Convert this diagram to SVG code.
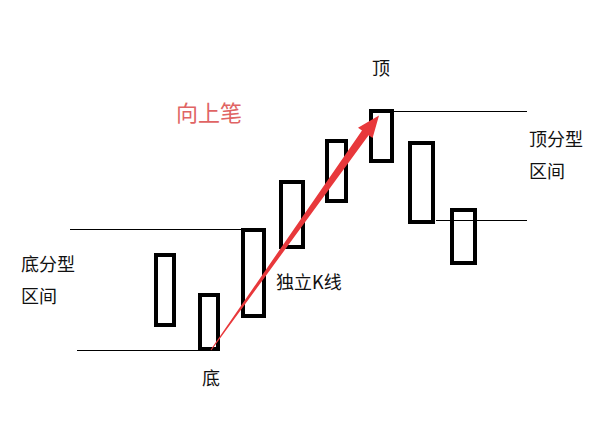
<svg xmlns="http://www.w3.org/2000/svg" width="616" height="430" viewBox="0 0 616 430">
<style>
.k{fill:none;stroke:#000;stroke-width:4}
.l{stroke:#000;stroke-width:1;fill:none}
.t{font-family:"Noto Sans CJK SC","Liberation Sans",sans-serif;font-size:18px;fill:#111}
</style>
<rect width="616" height="430" fill="#fff"/>
<g id="levels">
<line class="l" x1="70" y1="229.5" x2="241" y2="229.5"/>
<line class="l" x1="77" y1="350.5" x2="200" y2="350.5"/>
<line class="l" x1="394" y1="111.5" x2="527" y2="111.5"/>
<line class="l" x1="436" y1="220.5" x2="527" y2="220.5"/>
</g>
<g id="candle1"><rect class="k" x="156" y="255" width="18" height="70"/></g>
<g id="candle2"><rect class="k" x="200" y="295" width="18" height="54"/></g>
<g id="candle3"><rect class="k" x="243" y="230" width="21" height="86"/></g>
<g id="candle4"><rect class="k" x="281" y="182" width="22" height="65"/></g>
<g id="candle5"><rect class="k" x="327" y="141" width="19" height="60"/></g>
<g id="candle6"><rect class="k" x="371" y="111" width="21" height="50"/></g>
<g id="candle7"><rect class="k" x="410" y="143" width="23" height="79"/></g>
<g id="candle8"><rect class="k" x="452" y="210" width="23" height="53"/></g>
<g id="connectors">
<polygon fill="#e8383b" points="210.6,349.7 362.0,130.6 358.0,127.7 379,115.5 372.6,138.1 368.6,135.2 211.4,350.3"/>
</g>
<g id="labels">
<text class="t" x="176" y="121" style="font-size:22px;fill:#e06464">向上笔</text>
<text class="t" x="372" y="75">顶</text>
<text class="t" x="529" y="146">顶分型</text>
<text class="t" x="529" y="178">区间</text>
<text class="t" x="21" y="271">底分型</text>
<text class="t" x="21" y="303">区间</text>
<text class="t" x="202" y="385">底</text>
<text class="t" x="276" y="289">独立K线</text>
</g>
</svg>
